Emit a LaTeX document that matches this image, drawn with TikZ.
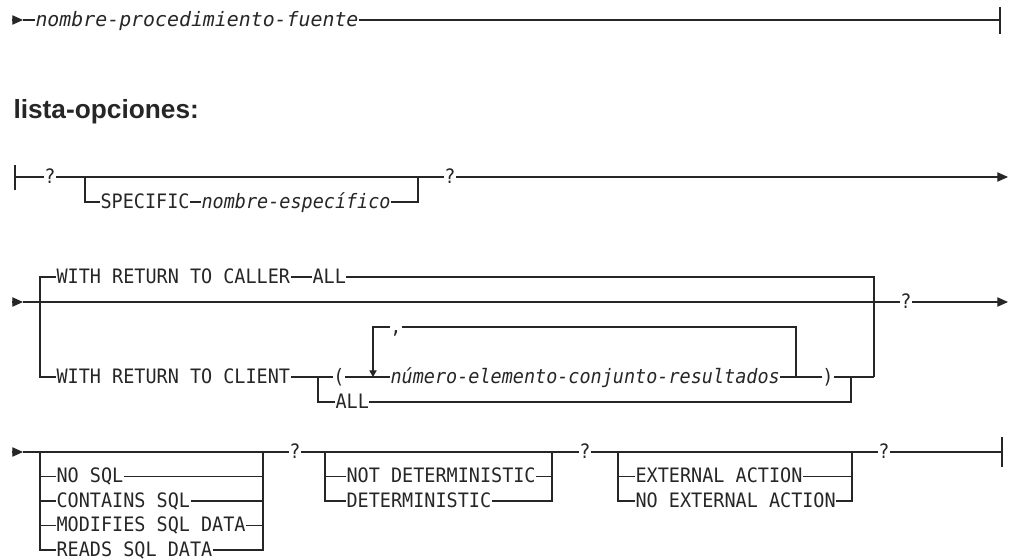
\documentclass[tikz,border=0pt]{standalone}
\usepackage{fontspec}
\newfontfamily\railfont[FakeStretch=0.93]{DejaVu Sans Mono}
\newfontfamily\railwide{DejaVu Sans Mono}
\newfontfamily\headfont{Liberation Sans}
\usetikzlibrary{arrows.meta}

\tikzset{
  railtext/.style={inner sep=0pt,text height=10.9pt,text depth=1.7pt,
    font=\railfont\fontsize{14.9}{16}\selectfont},
  kw/.style={railtext,anchor=west},
  var/.style={kw,font=\railfont\itshape\fontsize{14.9}{16}\selectfont},
  sym/.style={railtext,anchor=center},
  heavy/.style={line width=1.6pt},
}

\begin{document}
\begin{tikzpicture}[x=0.75pt,y=-0.75pt,line width=0.8pt,color=black!85,
  >={Triangle[length=8pt,width=7pt]}]
\useasboundingbox (0,0) rectangle (1010,560);

% nombre-procedimiento-fuente
\coordinate (r1s) at (12,20);
\coordinate (r1e) at (1000,20);
\node[var,font=\railwide\itshape\fontsize{14.9}{16}\selectfont] (fuente) at (35,20) {nombre-procedimiento-fuente};
\draw[->] (r1s) -- ++(11,0) coordinate (r1a);
\draw (r1a) -- (fuente.west) (fuente.east) -- (r1e);
\draw[heavy] (fuente.east) -- ++(25,0);
\draw (1000,7) -- (1000,34);

% lista-opciones
\node[font=\headfont\bfseries\fontsize{19.7}{22}\selectfont,anchor=base west,inner sep=0pt] (titulo) at (13,118) {lista-opciones:};

\coordinate (r2s) at (15,177);
\node[sym] (q21) at (50,177) {?};
\coordinate (b2l) at (85,177);
\coordinate (b2r) at (418,177);
\node[sym] (q22) at (450,177) {?};
\coordinate (r2e) at (1008,177);
\node[kw] (specific) at (100,202) {SPECIFIC};
\node[var] (nomesp) at (201,202) {nombre-específico};
\draw (15,165) -- (15,190);
\draw (r2s) -- (q21.west) (q21.east) -- (b2l) -- (b2r) -- (q22.west);
\draw[->] (q22.east) -- (r2e);
\draw (b2l) |- (specific.west) (specific.east) -- (nomesp.west) (nomesp.east) -| (b2r);

% WITH RETURN TO ...
\coordinate (r3s) at (12,302);
\coordinate (b3l) at (40,302);
\coordinate (b3r) at (874,302);
\node[sym] (q3) at (906,302) {?};
\coordinate (r3e) at (1008,302);
\node[kw] (caller) at (56,277) {WITH RETURN TO CALLER};
\node[kw] (allcaller) at (312,277) {ALL};
\node[kw] (client) at (56,377) {WITH RETURN TO CLIENT};
\coordinate (split) at (318,377);
\node[sym] (parab) at (339,377) {(};
\node[kw] (allclient) at (335,402) {ALL};
\coordinate (loopl) at (373,377);
\node[sym] (coma) at (396,327) {,};
\node[var] (numero) at (390,377) {número-elemento-conjunto-resultados};
\coordinate (loopr) at (796,377);
\node[sym] (parcd) at (828,377) {)};
\coordinate (join) at (851,377);
\coordinate (b3rb) at (874,377);
\draw[->] (r3s) -- ++(11,0) coordinate (r3a);
\draw (r3a) -- (b3l) -- (b3r) -- (q3.west);
\draw[->] (q3.east) -- (r3e);
\draw (b3l) |- (caller.west) (caller.east) -- (allcaller.west) (allcaller.east) -| (b3rb);
\draw (b3l) |- (client.west) (client.east) -- (split) -- (parab.west) (parab.east) -- (numero.west) (numero.east) -- (loopr) -- (parcd.west) (parcd.east) -- (b3rb);
\draw (split) |- (allclient.west) (allclient.east) -| (join);
\draw (loopr) |- (coma.east);
\draw[-{Triangle[length=5pt,width=5.5pt]}] (coma.west) -| (loopl);

% SQL, DETERMINISTIC, EXTERNAL ACTION
\coordinate (r4s) at (12,452);
\coordinate (a4l) at (40,452);
\coordinate (a4r) at (263,452);
\node[sym] (q41) at (295,452) {?};
\coordinate (b4l) at (325,452);
\coordinate (b4r) at (552,452);
\node[sym] (q42) at (585,452) {?};
\coordinate (c4l) at (618,452);
\coordinate (c4r) at (852,452);
\node[sym] (q43) at (884,452) {?};
\coordinate (r4e) at (1002,452);
\node[kw] (nosql) at (56,476.5) {NO SQL};
\node[kw] (contains) at (56,501) {CONTAINS SQL};
\node[kw] (modifies) at (56,525.5) {MODIFIES SQL DATA};
\node[kw] (reads) at (56,550) {READS SQL DATA};
\node[kw] (notdet) at (346,476.5) {NOT DETERMINISTIC};
\node[kw] (det) at (346,501) {DETERMINISTIC};
\node[kw] (extact) at (635,476.5) {EXTERNAL ACTION};
\node[kw] (noext) at (635,501) {NO EXTERNAL ACTION};
\draw[->] (r4s) -- ++(11,0) coordinate (r4a);
\draw (r4a) -- (a4l) -- (a4r) -- (q41.west) (q41.east) -- (b4l) -- (b4r) -- (q42.west) (q42.east) -- (c4l) -- (c4r) -- (q43.west) (q43.east) -- (r4e);
\draw[heavy] (q43.east) -- ++(28,0);
\draw (1002,437) -- (1002,467);
\draw (a4l) |- (reads.west) (reads.east) -| (a4r);
\draw (a4l |- nosql) -- (nosql.west) (nosql.east) -- (a4r |- nosql);
\draw (a4l |- contains) -- (contains.west) (contains.east) -- (a4r |- contains);
\draw (a4l |- modifies) -- (modifies.west) (modifies.east) -- (a4r |- modifies);
\draw (b4l) |- (det.west) (det.east) -| (b4r);
\draw (b4l |- notdet) -- (notdet.west) (notdet.east) -- (b4r |- notdet);
\draw (c4l) |- (noext.west) (noext.east) -| (c4r);
\draw (c4l |- extact) -- (extact.west) (extact.east) -- (c4r |- extact);
\end{tikzpicture}
\end{document}
